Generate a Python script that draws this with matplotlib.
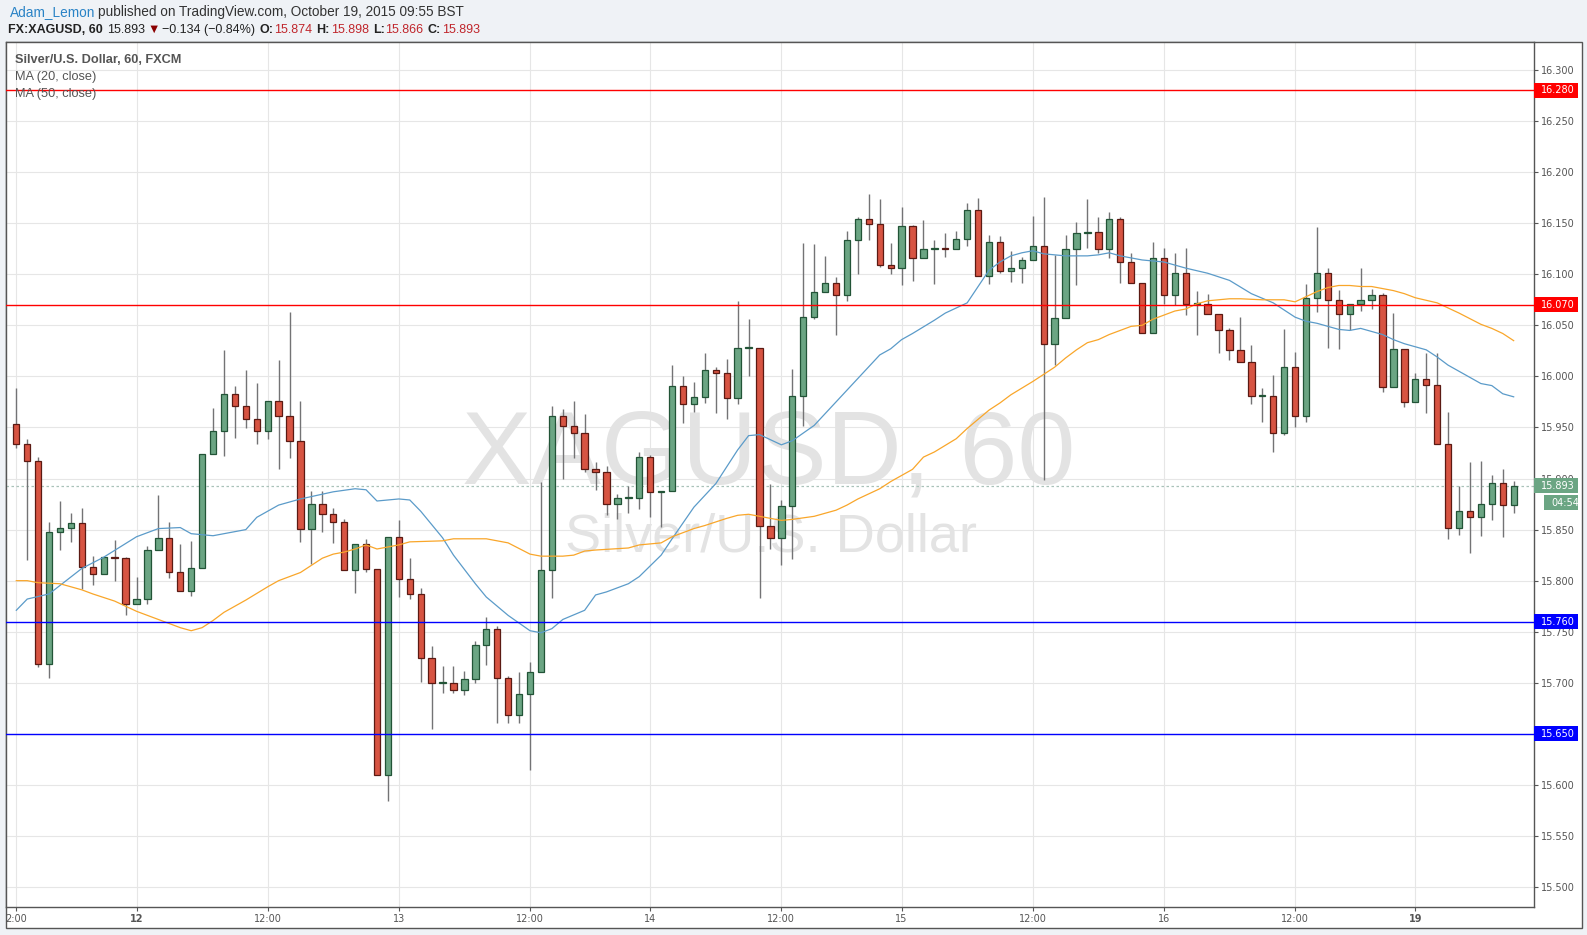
import matplotlib
matplotlib.use('Agg')
import matplotlib.pyplot as plt
from matplotlib.patches import Rectangle

plt.rcParams['font.family'] = ['Liberation Sans', 'DejaVu Sans']

# hourly XAGUSD candles
opens = [
    15.953, 15.934, 15.917, 15.718, 15.848, 15.852, 15.856, 15.813, 15.807, 15.823,
    15.822, 15.777, 15.782, 15.830, 15.842, 15.808, 15.790, 15.812, 15.924, 15.947,
    15.983, 15.971, 15.958, 15.947, 15.976, 15.961, 15.937, 15.851, 15.875, 15.865,
    15.857, 15.810, 15.836, 15.811, 15.610, 15.843, 15.802, 15.787, 15.724, 15.700,
    15.700, 15.693, 15.704, 15.737, 15.753, 15.705, 15.668, 15.689, 15.711, 15.810,
    15.961, 15.951, 15.945, 15.909, 15.906, 15.875, 15.881, 15.881, 15.921, 15.887,
    15.888, 15.991, 15.973, 15.980, 16.006, 16.003, 15.979, 16.028, 16.028, 15.854,
    15.842, 15.873, 15.981, 16.058, 16.083, 16.091, 16.080, 16.134, 16.154, 16.149,
    16.109, 16.106, 16.147, 16.116, 16.125, 16.126, 16.125, 16.135, 16.163, 16.098,
    16.132, 16.103, 16.106, 16.114, 16.128, 16.032, 16.057, 16.125, 16.140, 16.141,
    16.125, 16.154, 16.112, 16.091, 16.042, 16.116, 16.080, 16.101, 16.071, 16.071,
    16.061, 16.045, 16.026, 16.014, 15.981, 15.981, 15.945, 16.009, 15.961, 16.077,
    16.101, 16.075, 16.061, 16.071, 16.075, 16.080, 15.990, 16.027, 15.975, 15.997,
    15.992, 15.934, 15.852, 15.868, 15.862, 15.875, 15.896, 15.874]
highs = [
    15.989, 15.939, 15.921, 15.857, 15.878, 15.866, 15.871, 15.824, 15.823, 15.840,
    15.823, 15.804, 15.834, 15.884, 15.857, 15.836, 15.839, 15.924, 15.969, 16.026,
    15.991, 16.006, 15.994, 15.976, 16.016, 16.063, 15.976, 15.888, 15.888, 15.871,
    15.860, 15.836, 15.841, 15.811, 15.843, 15.859, 15.822, 15.793, 15.736, 15.716,
    15.716, 15.712, 15.741, 15.764, 15.756, 15.707, 15.711, 15.720, 15.897, 15.971,
    15.968, 15.976, 15.963, 15.916, 15.912, 15.885, 15.893, 15.926, 15.923, 15.888,
    16.011, 16.000, 15.995, 16.023, 16.009, 16.017, 16.074, 16.056, 16.028, 15.895,
    15.879, 16.007, 16.131, 16.130, 16.118, 16.097, 16.142, 16.156, 16.179, 16.174,
    16.131, 16.166, 16.148, 16.153, 16.134, 16.140, 16.142, 16.170, 16.175, 16.138,
    16.137, 16.123, 16.117, 16.157, 16.176, 16.119, 16.138, 16.151, 16.174, 16.156,
    16.161, 16.156, 16.121, 16.091, 16.132, 16.126, 16.121, 16.126, 16.084, 16.081,
    16.061, 16.047, 16.058, 16.031, 15.989, 16.001, 16.046, 16.024, 16.090, 16.146,
    16.106, 16.085, 16.071, 16.106, 16.086, 16.082, 16.062, 16.027, 16.003, 16.023,
    16.023, 15.965, 15.893, 15.916, 15.917, 15.903, 15.909, 15.898]
lows = [
    15.930, 15.820, 15.715, 15.705, 15.830, 15.838, 15.792, 15.796, 15.807, 15.800,
    15.766, 15.777, 15.777, 15.830, 15.803, 15.790, 15.785, 15.812, 15.924, 15.922,
    15.940, 15.949, 15.934, 15.939, 15.909, 15.920, 15.838, 15.816, 15.848, 15.837,
    15.810, 15.788, 15.808, 15.610, 15.584, 15.784, 15.782, 15.701, 15.655, 15.690,
    15.690, 15.688, 15.700, 15.717, 15.661, 15.661, 15.661, 15.615, 15.711, 15.783,
    15.900, 15.920, 15.906, 15.889, 15.864, 15.860, 15.866, 15.870, 15.862, 15.853,
    15.888, 15.954, 15.965, 15.974, 15.964, 15.958, 15.973, 16.000, 15.783, 15.831,
    15.815, 15.821, 15.951, 16.056, 16.083, 16.041, 16.074, 16.100, 16.134, 16.107,
    16.100, 16.089, 16.093, 16.116, 16.090, 16.117, 16.125, 16.128, 16.098, 16.090,
    16.101, 16.092, 16.091, 16.114, 15.899, 16.011, 16.057, 16.089, 16.126, 16.121,
    16.116, 16.091, 16.091, 16.042, 16.042, 16.071, 16.070, 16.060, 16.041, 16.061,
    16.023, 16.016, 16.014, 15.973, 15.955, 15.926, 15.943, 15.950, 15.955, 16.063,
    16.028, 16.027, 16.045, 16.064, 16.066, 15.985, 15.990, 15.970, 15.975, 15.964,
    15.934, 15.841, 15.845, 15.827, 15.844, 15.859, 15.843, 15.866]
closes = [
    15.934, 15.917, 15.718, 15.848, 15.852, 15.856, 15.813, 15.807, 15.823, 15.822,
    15.777, 15.782, 15.830, 15.842, 15.808, 15.790, 15.812, 15.924, 15.947, 15.983,
    15.971, 15.958, 15.947, 15.976, 15.961, 15.937, 15.851, 15.875, 15.865, 15.857,
    15.810, 15.836, 15.811, 15.610, 15.843, 15.802, 15.787, 15.724, 15.700, 15.700,
    15.693, 15.704, 15.737, 15.753, 15.705, 15.668, 15.689, 15.711, 15.810, 15.961,
    15.951, 15.945, 15.909, 15.906, 15.875, 15.881, 15.881, 15.921, 15.887, 15.888,
    15.991, 15.973, 15.980, 16.006, 16.003, 15.979, 16.028, 16.029, 15.854, 15.842,
    15.873, 15.981, 16.058, 16.083, 16.091, 16.080, 16.134, 16.154, 16.149, 16.109,
    16.106, 16.147, 16.116, 16.125, 16.126, 16.125, 16.135, 16.163, 16.098, 16.132,
    16.103, 16.106, 16.114, 16.128, 16.032, 16.057, 16.125, 16.140, 16.141, 16.125,
    16.154, 16.112, 16.091, 16.042, 16.116, 16.080, 16.101, 16.071, 16.072, 16.061,
    16.045, 16.026, 16.014, 15.981, 15.982, 15.945, 16.009, 15.961, 16.077, 16.101,
    16.075, 16.061, 16.071, 16.075, 16.080, 15.990, 16.027, 15.975, 15.997, 15.992,
    15.934, 15.852, 15.868, 15.862, 15.875, 15.896, 15.874, 15.893]

# moving averages as drawn (bar index, value)
ma20_idx = [0, 1, 3, 6, 8, 11, 13, 15, 16, 18, 21, 22, 24, 26, 29, 31, 32, 33, 35, 36,
            37, 39, 40, 42, 43, 45, 47, 48, 49, 50, 52, 53, 54, 56, 57, 59, 60, 62, 64, 66,
            67, 68, 69, 70, 71, 73, 75, 77, 79, 80, 81, 82, 84, 85, 86, 87, 88, 89, 90, 91,
            92, 93, 94, 95, 96, 98, 99, 100, 101, 103, 105, 107, 109, 111, 113, 115, 116,
            117, 118, 119, 120, 121, 122, 123, 124, 125, 126, 127, 129, 130, 131, 132,
            133, 134, 135, 136, 137]
ma20_val = [15.771, 15.782, 15.787, 15.812, 15.823, 15.843, 15.851, 15.852, 15.846, 15.844,
            15.850, 15.862, 15.874, 15.880, 15.887, 15.890, 15.889, 15.878, 15.880, 15.879,
            15.868, 15.842, 15.825, 15.797, 15.784, 15.766, 15.751, 15.749, 15.753, 15.762,
            15.771, 15.786, 15.789, 15.797, 15.804, 15.825, 15.841, 15.872, 15.895, 15.928,
            15.942, 15.943, 15.938, 15.933, 15.937, 15.952, 15.975, 15.998, 16.021, 16.027,
            16.036, 16.042, 16.055, 16.062, 16.067, 16.072, 16.088, 16.104, 16.112, 16.118,
            16.121, 16.123, 16.120, 16.119, 16.118, 16.118, 16.119, 16.121, 16.118, 16.114,
            16.112, 16.106, 16.101, 16.094, 16.081, 16.072, 16.065, 16.058, 16.054, 16.052,
            16.049, 16.046, 16.045, 16.047, 16.044, 16.041, 16.036, 16.032, 16.026, 16.019,
            16.011, 16.005, 15.999, 15.993, 15.991, 15.983, 15.980]
ma50_idx = [0, 1, 2, 4, 6, 7, 9, 10, 11, 13, 14, 15, 16, 17, 18, 19, 21, 23, 24, 26,
            27, 28, 29, 30, 31, 32, 33, 34, 35, 36, 39, 40, 43, 45, 47, 48, 50, 51, 52, 53,
            56, 57, 59, 60, 62, 63, 65, 66, 67, 68, 69, 70, 71, 73, 75, 76, 77, 79, 80, 81,
            82, 83, 84, 86, 87, 88, 89, 90, 91, 93, 95, 96, 97, 98, 99, 100, 101, 102, 103,
            104, 105, 106, 107, 108, 109, 111, 112, 114, 116, 117, 118, 119, 120, 121, 122,
            123, 124, 125, 126, 127, 128, 130, 131, 132, 134, 135, 136, 137]
ma50_val = [15.800, 15.800, 15.798, 15.797, 15.791, 15.787, 15.780, 15.775, 15.770, 15.762,
            15.758, 15.754, 15.751, 15.754, 15.761, 15.769, 15.781, 15.794, 15.800, 15.808,
            15.815, 15.822, 15.826, 15.828, 15.831, 15.835, 15.831, 15.833, 15.835, 15.838,
            15.839, 15.841, 15.841, 15.837, 15.826, 15.824, 15.824, 15.825, 15.829, 15.830,
            15.832, 15.835, 15.837, 15.843, 15.851, 15.854, 15.861, 15.864, 15.865, 15.863,
            15.861, 15.859, 15.860, 15.863, 15.869, 15.874, 15.880, 15.890, 15.897, 15.903,
            15.909, 15.921, 15.926, 15.939, 15.949, 15.958, 15.967, 15.974, 15.982, 15.995,
            16.009, 16.018, 16.026, 16.033, 16.036, 16.041, 16.045, 16.049, 16.050,
            16.056, 16.060, 16.064, 16.066, 16.071, 16.074, 16.076, 16.076, 16.075, 16.075,
            16.073, 16.078, 16.083, 16.087, 16.089, 16.089, 16.088, 16.088, 16.086, 16.084,
            16.081, 16.077, 16.072, 16.067, 16.062, 16.051, 16.047, 16.042, 16.035]

time_idx = [0, 11, 23, 35, 47, 58, 70, 81, 93, 105, 117, 128]
time_labels = ['2:00', '12', '12:00', '13', '12:00', '14', '12:00', '15', '12:00', '16', '12:00', '19']
price_ticks = [15.50, 15.55, 15.60, 15.65, 15.70, 15.75, 15.80, 15.85, 15.90,
               15.95, 16.00, 16.05, 16.10, 16.15, 16.20, 16.25, 16.30]
resistance = [16.280, 16.070]
support = [15.760, 15.650]
last_price = 15.893

W, H = 1587, 935
fig = plt.figure(figsize=(W / 100, H / 100), dpi=100, facecolor='#eff2f6')
renderer = fig.canvas.get_renderer()

# white chart panel with frame (behind the axes)
fig.patches.append(Rectangle((6.3 / W, 1 - 928 / H), (1582 - 6.3) / W, (928 - 42.3) / H,
                             transform=fig.transFigure, fc='white', ec='#555555', lw=1, zorder=-5))

ax = fig.add_axes([6.3 / W, 1 - 907 / H, (1534 - 6.3) / W, (907 - 42.3) / H], zorder=2)
ax.set_facecolor('white')
ax.set_xlim(-0.915, 138.86)
ax.set_ylim(15.4805, 16.3271)
for s in ax.spines.values():
    s.set_color('#555555')
    s.set_linewidth(1)

ax.set_yticks(price_ticks)
ax.set_yticklabels(['%.3f' % p for p in price_ticks])
ax.yaxis.tick_right()
ax.tick_params(axis='y', length=3, width=0.8, color='#555555', labelsize=7,
               labelcolor='#555555', pad=2)
for lbl in ax.get_yticklabels():
    lbl.set_family('DejaVu Sans')
ax.set_xticks(time_idx)
ax.set_xticklabels(time_labels)
ax.tick_params(axis='x', length=3, width=0.8, color='#555555', labelsize=7,
               labelcolor='#555555', pad=2)
for lbl in ax.get_xticklabels():
    lbl.set_family('DejaVu Sans')
    if lbl.get_text() in ('12', '19'):
        lbl.set_fontweight('bold')
ax.grid(True, color='#e6e6e6', lw=0.8, zorder=0)
ax.set_axisbelow(True)

# watermark
ax.text(0.4993, 0.4903, 'XAGUSD, 60', transform=ax.transAxes, ha='center', va='baseline',
        fontsize=75, color='#e3e3e3', zorder=1)
ax.text(0.5006, 0.4111, 'Silver/U.S. Dollar', transform=ax.transAxes, ha='center',
        va='baseline', fontsize=39, color='#e3e3e3', zorder=1)

# candles
x = list(range(len(closes)))
up = [c >= o for o, c in zip(opens, closes)]
bottoms = [min(o, c) for o, c in zip(opens, closes)]
heights = [max(abs(c - o), 0.0008) for o, c in zip(opens, closes)]
fills = ['#6ba583' if u else '#d75442' for u in up]
edges = ['#225437' if u else '#5b1a13' for u in up]
ax.vlines(x, lows, highs, color='#737375', lw=1.0, zorder=3)
ax.bar(x, heights, 0.58, bottoms, color=fills, edgecolor=edges, lw=0.9, zorder=4)

ax.plot(ma20_idx, ma20_val, color='#5b9bc9', lw=0.9, zorder=5)
ax.plot(ma50_idx, ma50_val, color='#f9a62a', lw=0.9, zorder=5)

for lv in resistance:
    ax.axhline(lv, color='#ff0000', lw=1, zorder=6)
for lv in support:
    ax.axhline(lv, color='#0000ff', lw=1, zorder=6)
ax.axhline(last_price, color='#a9c2b9', lw=0.9, ls=(0, (2, 2)), zorder=2)

# price labels on the axis
ytr = ax.get_yaxis_transform()
axw = 1534 - 6.3
hh = 7.5 / 1021.3


def price_box(y, txt, col, x0=0.0, w=44):
    ax.add_patch(Rectangle((1 + x0 / axw, y - hh), w / axw, 2 * hh, transform=ytr,
                           fc=col, ec='none', clip_on=False, zorder=10))
    ax.text(1 + (x0 + 7) / axw, y, txt, transform=ytr, ha='left', va='center',
            color='white', fontsize=7, family='DejaVu Sans', clip_on=False, zorder=11)


for lv in resistance:
    price_box(lv, '%.3f' % lv, '#ff0000')
for lv in support:
    price_box(lv, '%.3f' % lv, '#0000ff')
price_box(last_price, '%.3f' % last_price, '#6ba583')
price_box(15.8765, '04:54', '#6ba583', x0=10, w=34)

# header lines
def text_run(px, py, pieces, size):
    for s, col, bold, gap in pieces:
        t = fig.text(px / W, 1 - py / H, s, fontsize=size, color=col,
                     fontweight='bold' if bold else 'normal', va='center', ha='left')
        px += t.get_window_extent(renderer).width + gap


text_run(10, 12, [('Adam_Lemon', '#2a83c6', False, 3),
                  ('published on TradingView.com, October 19, 2015 09:55 BST', '#333333', False, 0)], 9.8)
red = '#c0262c'
text_run(8, 30, [('FX:XAGUSD, 60', '#222222', True, 4),
                 ('15.893', '#222222', False, 3),
                 ('\u25bc', '#8b0000', False, 2),
                 ('\u22120.134 (\u22120.84%)', '#222222', False, 4),
                 ('O:', '#222222', True, 1), ('15.874', red, False, 4),
                 ('H:', '#222222', True, 1), ('15.898', red, False, 4),
                 ('L:', '#222222', True, 1), ('15.866', red, False, 4),
                 ('C:', '#222222', True, 1), ('15.893', red, False, 0)], 9)

fig.text(15 / W, 1 - 60 / H, 'Silver/U.S. Dollar, 60, FXCM', fontsize=9.2, color='#555555',
         fontweight='bold', va='center')
fig.text(15 / W, 1 - 77 / H, 'MA (20, close)', fontsize=9.2, color='#555555', va='center')
fig.text(15 / W, 1 - 94 / H, 'MA (50, close)', fontsize=9.2, color='#555555', va='center')

fig.savefig('out.png', dpi=100, facecolor=fig.get_facecolor())
